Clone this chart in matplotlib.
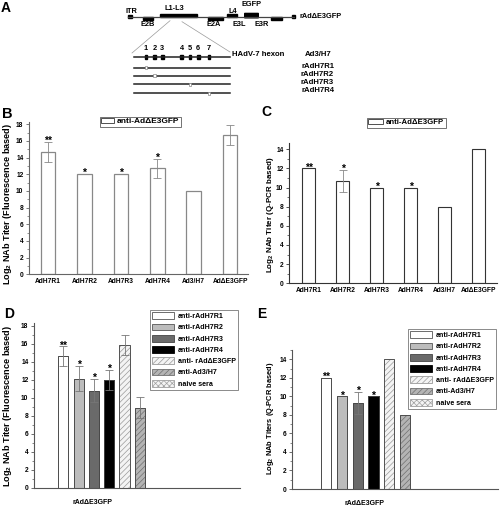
import matplotlib
matplotlib.use('Agg')
import matplotlib.pyplot as plt
from matplotlib.patches import Rectangle, Patch, FancyBboxPatch

plt.rcParams['font.family'] = ['Liberation Sans', 'DejaVu Sans']
plt.rcParams['font.weight'] = 'bold'
plt.rcParams['mathtext.fontset'] = 'custom'
plt.rcParams['mathtext.rm'] = 'Liberation Sans:bold'
plt.rcParams['mathtext.bf'] = 'Liberation Sans:bold'
plt.rcParams['hatch.linewidth'] = 0.5

W, H = 500, 507

# ---- panel A: genome schematic (positions in figure pixels) ----
genome_span = (128, 294)
genome_y = 16.7
# name, x0, x1, placement ('up', 'down', 'mid'), label x, label y
genome_blocks = [
    ('ITR', 128, 132, 'mid', 131, 11.5),
    ('E2B', 143, 153, 'down', 148, 25),
    ('L1-L3', 160, 197, 'up', 174, 8.3),
    ('E2A', 208, 223, 'down', 214, 25),
    ('L4', 227, 237, 'up', 233, 11.5),
    ('EGFP', 245, 258, 'mid', 252, 4.5),
    ('E3R', 271, 282, 'down', 262, 25),
    ('', 292, 295, 'mid', 0, 0),
]
e3l_label = (239, 25)
hexon_x = (134, 230)
hexon_sites = [146, 154.3, 162.3, 181.7, 190, 198.3, 209]
hexon_rows = ['Ad3/H7', 'rAdH7R1', 'rAdH7R2', 'rAdH7R3', 'rAdH7R4']
hexon_row_y = [56.7, 67.7, 75.7, 84, 93.3]
hexon_label_y = [55, 66, 75, 82.7, 90.7]
replaced_site = [None, 0, 1, 4, 6]

# ---- panels B / C ----
strains = ['AdH7R1', 'AdH7R2', 'AdH7R3', 'AdH7R4', 'Ad3/H7', 'AdΔE3GFP']
fluor_titer = [14.7, 12.0, 12.0, 12.7, 10.0, 16.7]
fluor_err = [1.2, 0, 0, 1.1, 0, 1.2]
qpcr_titer = [12.0, 10.7, 10.0, 10.0, 8.0, 14.0]
qpcr_err = [0, 1.15, 0, 0, 0, 0]
strain_sig = ['**', '*', '*', '*', '', '']

# ---- panels D / E ----
sera = ['anti-rAdH7R1', 'anti-rAdH7R2', 'anti-rAdH7R3', 'anti-rAdH7R4',
        'anti- rAdΔE3GFP', 'anti-Ad3/H7', 'naive sera']
sera_fluor = [14.6, 12.1, 10.8, 12.0, 15.9, 8.9, 0]
sera_fluor_err = [1.1, 1.4, 1.3, 1.1, 1.1, 1.2, 0]
sera_qpcr = [12.0, 10.0, 9.3, 10.0, 14.0, 8.0, 0]
sera_qpcr_err = [0, 0, 1.2, 0, 0, 0, 0]
sera_sig = ['**', '*', '*', '*', '', '', '']
target_virus = 'rAdΔE3GFP'

sera_style = [
    dict(facecolor='white', hatch=None, edgecolor='#555555'),
    dict(facecolor='#bcbcbc', hatch=None, edgecolor='#555555'),
    dict(facecolor='#6a6a6a', hatch=None, edgecolor='#444444'),
    dict(facecolor='#000000', hatch=None, edgecolor='#000000'),
    dict(facecolor='#f4f4f4', hatch='//////', edgecolor='#9a9a9a'),
    dict(facecolor='#b4b4b4', hatch='//////', edgecolor='#707070'),
    dict(facecolor='#f4f4f4', hatch='xxxxxx', edgecolor='#a0a0a0'),
]

fig = plt.figure(figsize=(W / 100, H / 100), dpi=100)

# overlay in pixel coordinates for schematic and free text
ov = fig.add_axes([0, 0, 1, 1])
ov.set_xlim(0, W)
ov.set_ylim(H, 0)
ov.axis('off')


def add_ax(x0, y_top, x1, y_bot):
    return fig.add_axes([x0 / W, 1 - y_bot / H, (x1 - x0) / W, (y_bot - y_top) / H])


def style_axis(ax, ymax, ystep, tick_fs=4.8, spine_color='#555555'):
    for s in ['top', 'right']:
        ax.spines[s].set_visible(False)
    for s in ['left', 'bottom']:
        ax.spines[s].set_color(spine_color)
        ax.spines[s].set_linewidth(0.8)
    ax.set_ylim(0, ymax)
    ax.set_yticks(range(0, int(ymax) + 1, ystep))
    ax.set_yticks(range(1, int(ymax) + 1, 2), minor=True)
    ax.tick_params(axis='y', which='major', length=2.5, width=0.6, labelsize=tick_fs,
                   pad=1.5, color=spine_color)
    ax.tick_params(axis='y', which='minor', length=1.5, width=0.5, color=spine_color)
    ax.tick_params(axis='x', length=0, labelsize=tick_fs, pad=3)
    ax.patch.set_alpha(0)


# ---------------- panel A ----------------
ov.text(6, 0.5, 'A', fontsize=10, ha='center', va='top')
ov.plot(genome_span, [genome_y, genome_y], color='#444444', lw=0.9)
for name, x0, x1, place, lx, ly in genome_blocks:
    if place == 'up':
        y0, y1 = genome_y - 3.2, genome_y
    elif place == 'down':
        y0, y1 = genome_y, genome_y + 3.6
    else:
        y0, y1 = genome_y - 2.2, genome_y + 1.6
    if name == 'EGFP':
        ov.add_patch(FancyBboxPatch((x0, genome_y - 3), x1 - x0, 3.8,
                                    boxstyle='round,pad=0.3', color='black'))
    else:
        ov.add_patch(Rectangle((x0, y0), x1 - x0, y1 - y0, color='black'))
    if name:
        ov.text(lx, ly, name, fontsize=5.3, ha='center', va='center')
ov.text(e3l_label[0], e3l_label[1], 'E3L', fontsize=5.3, ha='center', va='center')
ov.text(300, genome_y, 'rAdΔE3GFP', fontsize=5.3, ha='left', va='center')
# zoom lines from L1-L3 to the hexon
ov.plot([170, hexon_x[0] - 2], [20.7, 53], color='#999999', lw=0.5)
ov.plot([182, hexon_x[1]], [21.7, 52], color='#999999', lw=0.5)

for i, (row, ry, ly, rep) in enumerate(zip(hexon_rows, hexon_row_y, hexon_label_y, replaced_site)):
    ov.plot(hexon_x, [ry, ry], color='#222222', lw=1.1)
    if i == 0:
        for k, sx in enumerate(hexon_sites):
            ov.add_patch(Rectangle((sx - 1.4, ry - 2), 2.8, 4, color='black'))
            ov.text(sx, 48.3, str(k + 1), fontsize=5.3, ha='center', va='center')
        ov.text(232, ly, 'HAdV-7 hexon', fontsize=5.6, ha='left', va='center')
        ov.text(318, ly, row, fontsize=5.6, ha='center', va='center')
    else:
        sx = hexon_sites[rep]
        ov.add_patch(Rectangle((sx - 1.4, ry - 1.5), 2.8, 3, facecolor='white',
                               edgecolor='#888888', lw=0.5, zorder=3))
        ov.text(334, ly, row, fontsize=5.6, ha='right', va='center')


def star(ax, x, top, sig, fs=7.5):
    if sig:
        ax.annotate(sig, (x, top), xytext=(0, -1.5), textcoords='offset points',
                    ha='center', va='baseline', fontsize=fs)


# ---------------- panel B ----------------
axB = add_ax(29, 121.7, 248, 274.3)
style_axis(axB, 18.3, 2, spine_color='#666666')
xs = list(range(len(strains)))
axB.bar(xs, fluor_titer, width=0.4, color='white', edgecolor='#888888', linewidth=0.9)
for x, v, e, s in zip(xs, fluor_titer, fluor_err, strain_sig):
    if e:
        axB.errorbar(x, v, yerr=e, color='#888888', lw=0.6, capsize=3, capthick=0.6)
    star(axB, x, v + e, s)
axB.set_xlim(-0.52, 5.49)
axB.set_xticks(xs)
axB.set_xticklabels(strains)
axB.legend(handles=[Patch(facecolor='white', edgecolor='#333333', lw=0.6, label='anti-AdΔE3GFP')],
           loc='upper left', bbox_to_anchor=(100 / W, 1 - 116.5 / H), bbox_transform=fig.transFigure,
           fontsize=6, frameon=True, fancybox=False, edgecolor='#333333', borderpad=0.15,
           handlelength=1.5, handleheight=0.6, handletextpad=0.4, borderaxespad=0)
axB.get_legend().get_frame().set_linewidth(0.6)
ov.text(7, 113.5, 'B', fontsize=10.5, ha='center', va='center')
ov.text(8, 204, r'Log$_{2}$ NAb Titer (Fluorescence based)', fontsize=6.6, rotation=90,
        ha='center', va='center')

# ---------------- panel C ----------------
axC = add_ax(289, 143, 496.7, 283.3)
style_axis(axC, 14.65, 2, spine_color='#333333')
axC.bar(xs, qpcr_titer, width=0.38, color='white', edgecolor='#333333', linewidth=0.8)
for x, v, e, s in zip(xs, qpcr_titer, qpcr_err, strain_sig):
    if e:
        axC.errorbar(x, v, yerr=e, color='#888888', lw=0.6, capsize=3, capthick=0.6)
    star(axC, x, v + e, s)
axC.set_xlim(-0.58, 5.53)
axC.set_xticks(xs)
axC.set_xticklabels(strains)
axC.legend(handles=[Patch(facecolor='white', edgecolor='#333333', lw=0.6, label='anti-AdΔE3GFP')],
           loc='upper left', bbox_to_anchor=(366.7 / W, 1 - 117.5 / H), bbox_transform=fig.transFigure,
           fontsize=5.6, frameon=True, fancybox=False, edgecolor='#333333', borderpad=0.2,
           handlelength=1.9, handleheight=0.6, handletextpad=0.4, borderaxespad=0)
axC.get_legend().get_frame().set_linewidth(0.6)
ov.text(266, 112.5, 'C', fontsize=10, ha='center', va='center')
ov.text(270, 215, r'Log$_{2}$ NAb Titer (Q-PCR based)', fontsize=5.8, rotation=90,
        ha='center', va='center')


# ---------------- panels D / E ----------------
def sera_panel(ax, vals, errs, xlim, label_x, legend_xy):
    xs = list(range(len(sera)))
    handles = []
    for x, v, e, s, st, name in zip(xs, vals, errs, sera_sig, sera_style, sera):
        if v:
            ax.bar(x, v, width=0.66, color=st['facecolor'], hatch=st['hatch'],
                   edgecolor=st['edgecolor'], linewidth=0.5)
            ax.bar(x, v, width=0.66, fill=False, edgecolor='#444444', linewidth=0.6)
        if e:
            ax.errorbar(x, v, yerr=e, color='#777777', lw=0.6, capsize=3, capthick=0.6)
        star(ax, x, v + e, s)
        handles.append(Patch(facecolor=st['facecolor'], hatch=st['hatch'],
                             edgecolor=st['edgecolor'], lw=0.6, label=name))
    ax.set_xlim(*xlim)
    ax.set_xticks([label_x])
    ax.set_xticklabels([target_virus], fontsize=5)
    ax.tick_params(axis='x', pad=8)
    leg = ax.legend(handles=handles, loc='upper left', bbox_to_anchor=legend_xy,
                    bbox_transform=fig.transFigure, fontsize=5.1, frameon=True,
                    fancybox=False, edgecolor='#555555', borderpad=0.35,
                    handlelength=3.1, handleheight=1.05, handletextpad=0.45,
                    labelspacing=0.5, borderaxespad=0)
    leg.get_frame().set_linewidth(0.6)


axD = add_ax(34, 323, 240, 487.7)
style_axis(axD, 18.3, 2, spine_color='#555555')
sera_panel(axD, sera_fluor, sera_fluor_err, (-1.92, 11.55), 1.9, (150 / W, 1 - 310 / H))
ov.text(9, 313.5, 'D', fontsize=10, ha='center', va='center')
ov.text(8, 406, r'Log$_{2}$ NAb Titer (Fluorescence based)', fontsize=6.6, rotation=90,
        ha='center', va='center')

axE = add_ax(292.3, 350, 498, 489)
style_axis(axE, 15, 2, spine_color='#555555')
sera_panel(axE, sera_qpcr, sera_qpcr_err, (-2.15, 10.9), 2.46, (408 / W, 1 - 329 / H))
ov.text(262, 314.5, 'E', fontsize=10, ha='center', va='center')
ov.text(270, 418, r'Log$_{2}$ NAb Titers (Q-PCR based)', fontsize=5.4, rotation=90,
        ha='center', va='center')

fig.savefig('out.png', dpi=100)
